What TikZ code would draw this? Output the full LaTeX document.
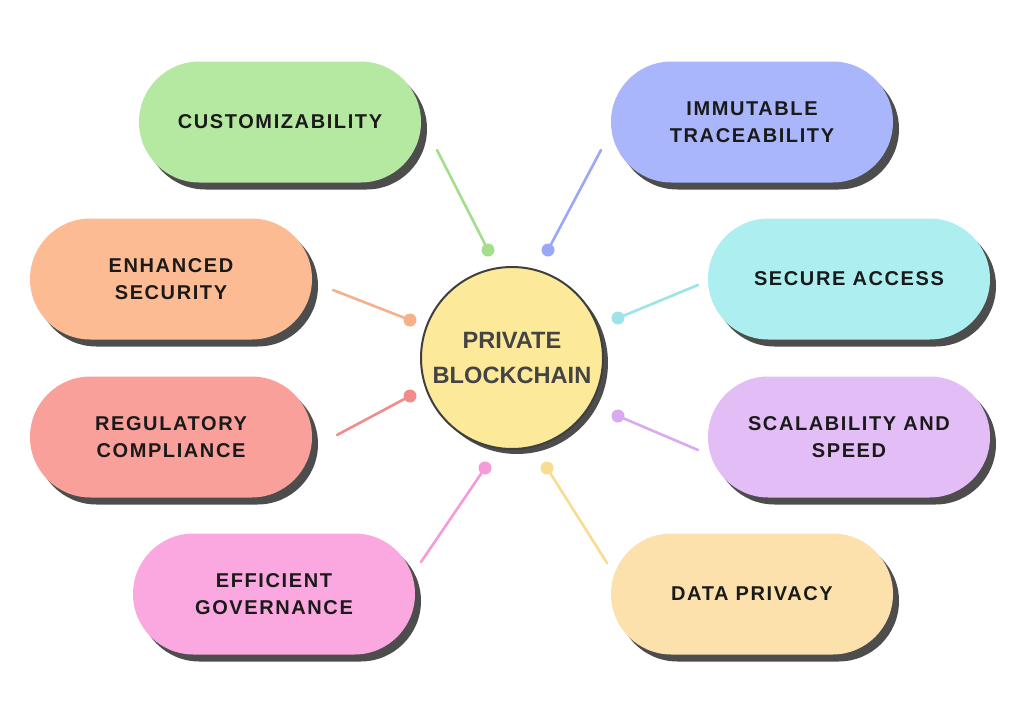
\documentclass[tikz,border=0pt]{standalone}
\usepackage{fontspec}
\setmainfont{Liberation Sans}
\newfontfamily\pillfont[LetterSpace=8]{Liberation Sans}
\usetikzlibrary{shapes.misc,shadows}
\definecolor{custfill}{HTML}{B5E8A0}
\definecolor{custline}{HTML}{A3DE8C}
\definecolor{immfill}{HTML}{AAB6FB}
\definecolor{immline}{HTML}{9BA8F6}
\definecolor{enhfill}{HTML}{FDBB94}
\definecolor{enhline}{HTML}{F8B08A}
\definecolor{secfill}{HTML}{ADEEF0}
\definecolor{secline}{HTML}{9CE4E8}
\definecolor{regfill}{HTML}{F9A09B}
\definecolor{regline}{HTML}{F28C8A}
\definecolor{scafill}{HTML}{E3BDF5}
\definecolor{scaline}{HTML}{D9AAF0}
\definecolor{efffill}{HTML}{FBA8E0}
\definecolor{effline}{HTML}{F59CD8}
\definecolor{datfill}{HTML}{FDE1AC}
\definecolor{datline}{HTML}{F8DC8F}
\definecolor{hubfill}{HTML}{FDE99A}
\definecolor{hubline}{HTML}{3F3F3F}
\definecolor{hubtext}{HTML}{444444}
\definecolor{shadowgray}{HTML}{4D4D4D}
\definecolor{txtdark}{HTML}{1A1A1A}
\tikzset{
  pill/.style={rounded rectangle, fill=#1, minimum width=145pt, minimum height=60.5pt,
               align=center, text=txtdark, inner sep=2pt,
               font=\pillfont\bfseries\fontsize{10}{13.5}\selectfont,
               drop shadow={shadow xshift=3pt, shadow yshift=-3.5pt, fill=shadowgray, opacity=1}},
  hub/.style={circle, draw=hubline, line width=1pt, fill=hubfill, minimum size=91pt,
              align=center, text=hubtext, inner sep=0pt,
              font=\bfseries\fontsize{11.8}{17.5}\selectfont,
              drop shadow={shadow xshift=2.5pt, shadow yshift=-2.5pt, fill=shadowgray, opacity=1}},
  conn/.style={draw=#1, line width=1.3pt, line cap=round},
  dot/.style={circle, fill=#1, inner sep=0pt, minimum size=6.5pt}
}
\begin{document}
\begin{tikzpicture}[x=0.5pt, y=-0.5pt]
    \useasboundingbox[fill=white] (0,0) rectangle (1024,718);
    \node[hub] (hub) at (512,358) {PRIVATE\\BLOCKCHAIN};
    % pills
    \node[pill=custfill] (cust) at (280,122) {CUSTOMIZABILITY};
    \node[pill=immfill] (imm) at (752,122) {IMMUTABLE\\TRACEABILITY};
    \node[pill=enhfill] (enh) at (171,279) {ENHANCED\\SECURITY};
    \node[pill=secfill] (sec) at (849,279) {SECURE ACCESS};
    \node[pill=regfill] (reg) at (171,437) {REGULATORY\\COMPLIANCE};
    \node[pill=scafill] (sca) at (849,437) {SCALABILITY AND\\SPEED};
    \node[pill=efffill] (eff) at (274,594) {EFFICIENT\\GOVERNANCE};
    \node[pill=datfill] (dat) at (752,594) {DATA PRIVACY};
    % connector ends
    \coordinate (cust-e) at (437,150);
    \coordinate (imm-e) at (601,150);
    \coordinate (enh-e) at (333,290);
    \coordinate (sec-e) at (698,285);
    \coordinate (reg-e) at (337,435);
    \coordinate (sca-e) at (698,450);
    \coordinate (eff-e) at (421,562);
    \coordinate (dat-e) at (607,563);
    \node[dot=custline] (cust-d) at (488,250) {};
    \node[dot=immline] (imm-d) at (548,250) {};
    \node[dot=enhline] (enh-d) at (410,320) {};
    \node[dot=secline] (sec-d) at (618,318) {};
    \node[dot=regline] (reg-d) at (410,396) {};
    \node[dot=scaline] (sca-d) at (618,416) {};
    \node[dot=effline] (eff-d) at (485,468) {};
    \node[dot=datline] (dat-d) at (547,468) {};
    \draw[conn=custline] (cust-e) -- (cust-d.center);
    \draw[conn=immline] (imm-e) -- (imm-d.center);
    \draw[conn=enhline] (enh-e) -- (enh-d.center);
    \draw[conn=secline] (sec-e) -- (sec-d.center);
    \draw[conn=regline] (reg-e) -- (reg-d.center);
    \draw[conn=scaline] (sca-e) -- (sca-d.center);
    \draw[conn=effline] (eff-e) -- (eff-d.center);
    \draw[conn=datline] (dat-e) -- (dat-d.center);
\end{tikzpicture}
\end{document}
